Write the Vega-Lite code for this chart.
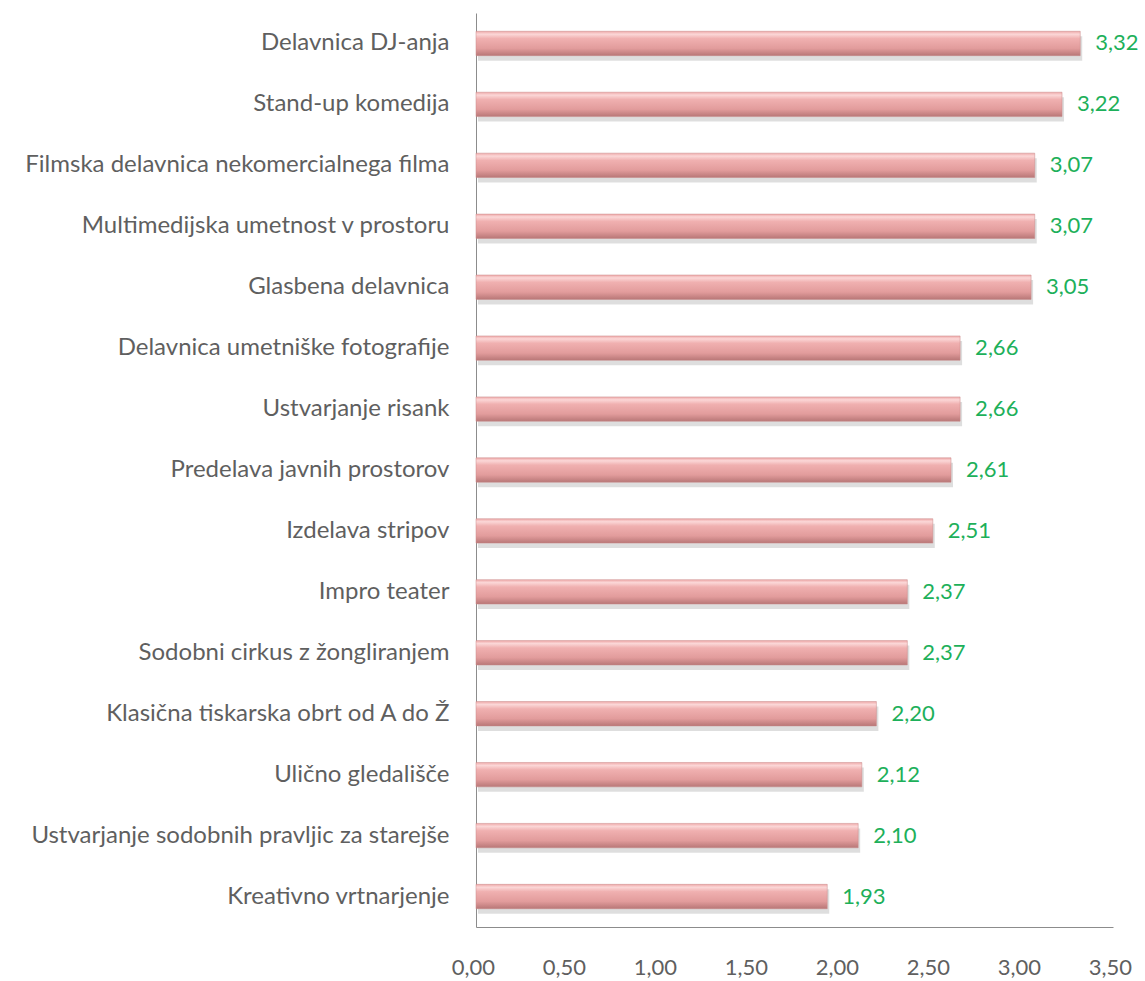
{
  "$schema": "https://vega.github.io/schema/vega-lite/v6.json",
  "width": 637,
  "height": 914,
  "autosize": {"type": "none"},
  "padding": {"left": 476, "top": 13, "right": 32, "bottom": 54},
  "background": "white",
  "config": {
    "font": "Lato",
    "view": {"stroke": null},
    "locale": {"number": {"decimal": ",", "thousands": ".", "grouping": [3], "currency": ["", " €"]}}
  },
  "data": {
    "values": [
      {"name": "Delavnica DJ-anja", "value": 3.32},
      {"name": "Stand-up komedija", "value": 3.22},
      {"name": "Filmska delavnica nekomercialnega filma", "value": 3.07},
      {"name": "Multimedijska umetnost v prostoru", "value": 3.07},
      {"name": "Glasbena delavnica", "value": 3.05},
      {"name": "Delavnica umetniške fotografije", "value": 2.66},
      {"name": "Ustvarjanje risank", "value": 2.66},
      {"name": "Predelava javnih prostorov\u00a0", "value": 2.61},
      {"name": "Izdelava stripov", "value": 2.51},
      {"name": "Impro teater", "value": 2.37},
      {"name": "Sodobni cirkus z žongliranjem", "value": 2.37},
      {"name": "Klasična tiskarska obrt od A do Ž", "value": 2.20},
      {"name": "Ulično gledališče", "value": 2.12},
      {"name": "Ustvarjanje sodobnih pravljic za starejše", "value": 2.10},
      {"name": "Kreativno vrtnarjenje", "value": 1.93}
    ]
  },
  "encoding": {
    "y": {
      "field": "name",
      "type": "nominal",
      "sort": null,
      "scale": {"paddingInner": 0.6, "paddingOuter": 0.3},
      "axis": {
        "title": null,
        "ticks": false,
        "domainColor": "#8C8C8C",
        "labelPadding": 27,
        "labelFontSize": 24,
        "labelColor": "#5F5F5F",
        "labelLimit": 600
      }
    },
    "x": {
      "field": "value",
      "type": "quantitative",
      "scale": {"domain": [0, 3.5], "nice": false},
      "axis": {
        "title": null,
        "grid": false,
        "ticks": false,
        "values": [0, 0.5, 1, 1.5, 2, 2.5, 3, 3.5],
        "format": ".2f",
        "domainColor": "#8C8C8C",
        "labelPadding": 30,
        "labelOffset": -3,
        "labelFontSize": 22,
        "labelColor": "#5F5F5F",
        "labelFlush": false
      }
    }
  },
  "layer": [
    {
      "mark": {"type": "bar", "color": "#000000", "opacity": 0.13, "yOffset": 5, "xOffset": 2},
      "encoding": {}
    },
    {
      "mark": {
        "type": "bar",
        "stroke": "#C98A8A",
        "strokeWidth": 0.5,
        "color": {
          "gradient": "linear",
          "x1": 0, "y1": 0, "x2": 0, "y2": 1,
          "stops": [
            {"offset": 0, "color": "#EFA9A9"},
            {"offset": 0.12, "color": "#FBD7D7"},
            {"offset": 0.3, "color": "#F0B0B0"},
            {"offset": 0.7, "color": "#E29C9C"},
            {"offset": 1, "color": "#B87777"}
          ]
        }
      },
      "encoding": {}
    },
    {
      "mark": {"type": "text", "align": "left", "baseline": "middle", "dx": 15, "fontSize": 22, "color": "#1DB05A"},
      "encoding": {
        "text": {"field": "value", "type": "quantitative", "format": ".2f"}
      }
    }
  ]
}
